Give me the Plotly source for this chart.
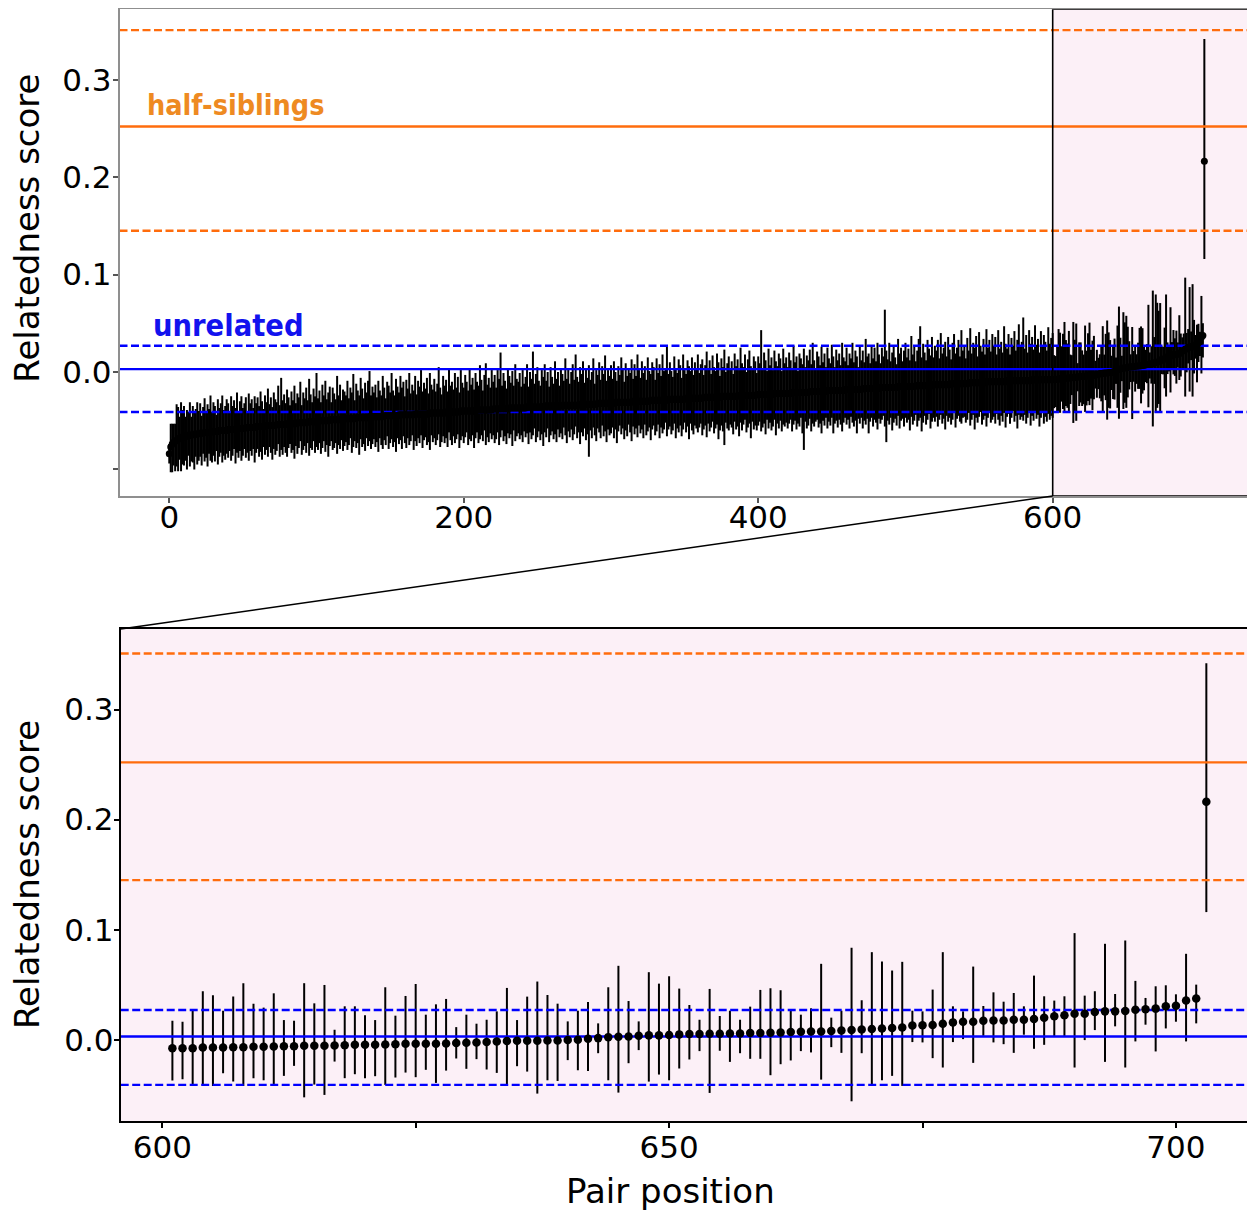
import plotly.graph_objects as go

# ---------------- data ----------------
# sorted relatedness scores, pair positions 0..600 (top overview panel)
main_score = [
    -.084,-.077,-.074,-.072,-.071,-.070,-.069,-.068,-.067,-.067,-.066,-.066,-.066,-.065,-.065,-.065,-.064,-.064,-.064,-.064,
    -.063,-.063,-.063,-.063,-.062,-.062,-.062,-.062,-.062,-.061,-.061,-.061,-.061,-.061,-.060,-.060,-.060,-.060,-.060,-.060,
    -.059,-.059,-.059,-.059,-.059,-.059,-.058,-.058,-.058,-.058,-.058,-.058,-.057,-.057,-.057,-.057,-.057,-.057,-.057,-.056,
    -.056,-.056,-.056,-.056,-.056,-.056,-.055,-.055,-.055,-.055,-.055,-.055,-.055,-.054,-.054,-.054,-.054,-.054,-.054,-.054,
    -.053,-.053,-.053,-.053,-.053,-.053,-.053,-.052,-.052,-.052,-.052,-.052,-.052,-.052,-.051,-.051,-.051,-.051,-.051,-.051,
    -.051,-.050,-.050,-.050,-.050,-.050,-.050,-.050,-.050,-.049,-.049,-.049,-.049,-.049,-.049,-.049,-.049,-.049,-.048,-.048,
    -.048,-.048,-.048,-.048,-.048,-.048,-.048,-.047,-.047,-.047,-.047,-.047,-.047,-.047,-.047,-.047,-.046,-.046,-.046,-.046,
    -.046,-.046,-.046,-.046,-.046,-.046,-.045,-.045,-.045,-.045,-.045,-.045,-.045,-.045,-.045,-.045,-.044,-.044,-.044,-.044,
    -.044,-.044,-.044,-.044,-.044,-.044,-.044,-.043,-.043,-.043,-.043,-.043,-.043,-.043,-.043,-.043,-.043,-.042,-.042,-.042,
    -.042,-.042,-.042,-.042,-.042,-.042,-.042,-.042,-.041,-.041,-.041,-.041,-.041,-.041,-.041,-.041,-.041,-.041,-.040,-.040,
    -.040,-.040,-.040,-.040,-.040,-.040,-.040,-.040,-.040,-.039,-.039,-.039,-.039,-.039,-.039,-.039,-.039,-.039,-.039,-.039,
    -.038,-.038,-.038,-.038,-.038,-.038,-.038,-.038,-.038,-.038,-.038,-.037,-.037,-.037,-.037,-.037,-.037,-.037,-.037,-.037,
    -.037,-.037,-.037,-.036,-.036,-.036,-.036,-.036,-.036,-.036,-.036,-.036,-.036,-.036,-.036,-.035,-.035,-.035,-.035,-.035,
    -.035,-.035,-.035,-.035,-.035,-.035,-.035,-.034,-.034,-.034,-.034,-.034,-.034,-.034,-.034,-.034,-.034,-.034,-.034,-.033,
    -.033,-.033,-.033,-.033,-.033,-.033,-.033,-.033,-.033,-.033,-.033,-.032,-.032,-.032,-.032,-.032,-.032,-.032,-.032,-.032,
    -.032,-.032,-.032,-.031,-.031,-.031,-.031,-.031,-.031,-.031,-.031,-.031,-.031,-.031,-.031,-.030,-.030,-.030,-.030,-.030,
    -.030,-.030,-.030,-.030,-.030,-.030,-.030,-.029,-.029,-.029,-.029,-.029,-.029,-.029,-.029,-.029,-.029,-.029,-.029,-.028,
    -.028,-.028,-.028,-.028,-.028,-.028,-.028,-.028,-.028,-.028,-.028,-.027,-.027,-.027,-.027,-.027,-.027,-.027,-.027,-.027,
    -.027,-.027,-.027,-.026,-.026,-.026,-.026,-.026,-.026,-.026,-.026,-.026,-.026,-.026,-.026,-.025,-.025,-.025,-.025,-.025,
    -.025,-.025,-.025,-.025,-.025,-.025,-.025,-.024,-.024,-.024,-.024,-.024,-.024,-.024,-.024,-.024,-.024,-.024,-.024,-.023,
    -.023,-.023,-.023,-.023,-.023,-.023,-.023,-.023,-.023,-.023,-.023,-.022,-.022,-.022,-.022,-.022,-.022,-.022,-.022,-.022,
    -.022,-.022,-.022,-.021,-.021,-.021,-.021,-.021,-.021,-.021,-.021,-.021,-.021,-.021,-.021,-.020,-.020,-.020,-.020,-.020,
    -.020,-.020,-.020,-.020,-.020,-.020,-.020,-.019,-.019,-.019,-.019,-.019,-.019,-.019,-.019,-.019,-.019,-.019,-.019,-.018,
    -.018,-.018,-.018,-.018,-.018,-.018,-.018,-.018,-.018,-.018,-.018,-.017,-.017,-.017,-.017,-.017,-.017,-.017,-.017,-.017,
    -.017,-.017,-.017,-.016,-.016,-.016,-.016,-.016,-.016,-.016,-.016,-.016,-.016,-.016,-.016,-.015,-.015,-.015,-.015,-.015,
    -.015,-.015,-.015,-.015,-.015,-.015,-.015,-.014,-.014,-.014,-.014,-.014,-.014,-.014,-.014,-.014,-.014,-.014,-.014,-.013,
    -.013,-.013,-.013,-.013,-.013,-.013,-.013,-.013,-.013,-.013,-.013,-.012,-.012,-.012,-.012,-.012,-.012,-.012,-.012,-.012,
    -.012,-.012,-.012,-.011,-.011,-.011,-.011,-.011,-.011,-.011,-.011,-.011,-.011,-.011,-.011,-.010,-.010,-.010,-.010,-.010,
    -.010,-.010,-.010,-.010,-.010,-.010,-.010,-.010,-.010,-.009,-.009,-.009,-.009,-.009,-.009,-.009,-.009,-.009,-.009,-.009,
    -.009,-.009,-.009,-.009,-.009,-.009,-.008,-.008,-.008,-.008,-.008,-.008,-.008,-.008,-.008,-.008,-.008,-.008,-.008,-.008,
    -.008,
]
# upper error half-widths for positions 0..600
main_err_up = [
    .010,.024,.021,.019,.018,.037,.033,.022,.036,.028,.031,.020,.027,.024,.034,.019,.029,.022,.026,.033,
    .023,.031,.018,.027,.035,.021,.029,.024,.038,.020,.030,.026,.017,.033,.023,.028,.036,.021,.025,.032,
    .027,.019,.034,.024,.030,.022,.037,.018,.028,.033,.021,.026,.031,.017,.035,.025,.029,.020,.032,.024,
    .030,.021,.036,.026,.018,.032,.024,.038,.022,.029,.019,.034,.027,.023,.040,.020,.048,.025,.031,.022,
    .035,.027,.019,.033,.024,.039,.021,.030,.026,.042,.018,.031,.025,.036,.022,.044,.028,.020,.034,.026,
    .050,.023,.031,.019,.037,.026,.041,.022,.029,.034,.018,.033,.027,.021,.045,.025,.036,.020,.030,.028,
    .024,.039,.021,.032,.027,.046,.019,.035,.028,.023,.041,.030,.020,.036,.026,.038,.047,.022,.031,.025,
    .033,.020,.037,.027,.022,.042,.029,.018,.035,.031,.024,.044,.026,.021,.038,.030,.023,.040,.028,.034,
    .019,.036,.027,.043,.022,.031,.025,.039,.020,.034,.028,.045,.023,.032,.026,.037,.021,.041,.029,.024,
    .035,.022,.030,.047,.026,.019,.038,.028,.033,.021,.044,.027,.031,.023,.040,.025,.036,.020,.042,.029,
    .024,.037,.030,.021,.043,.027,.034,.022,.039,.029,.025,.046,.031,.020,.036,.048,.026,.033,.023,.041,
    .028,.035,.022,.040,.031,.058,.024,.037,.029,.021,.042,.033,.026,.038,.023,.045,.030,.027,.036,.022,
    .039,.025,.032,.044,.021,.036,.029,.057,.024,.034,.041,.027,.022,.038,.031,.043,.026,.035,.020,.040,
    .030,.023,.046,.028,.035,.021,.039,.032,.025,.048,.027,.037,.022,.034,.042,.026,.052,.029,.024,.038,
    .031,.044,.022,.036,.027,.040,.025,.033,.047,.021,.035,.029,.042,.024,.038,.030,.049,.023,.034,.028,
    .039,.025,.043,.031,.022,.037,.028,.046,.034,.021,.040,.027,.035,.030,.044,.023,.038,.026,.048,.032,
    .024,.041,.029,.036,.022,.045,.031,.027,.039,.034,.021,.043,.028,.037,.025,.047,.030,.033,.055,.026,
    .038,.029,.023,.044,.032,.027,.041,.035,.022,.046,.030,.025,.039,.033,.028,.042,.024,.037,.031,.045,
    .026,.035,.040,.023,.033,.047,.029,.038,.024,.043,.031,.027,.045,.036,.022,.039,.030,.048,.025,.034,
    .041,.028,.036,.023,.044,.031,.038,.026,.049,.033,.029,.042,.024,.037,.046,.030,.027,.040,.035,.022,
    .039,.032,.066,.027,.043,.035,.024,.047,.030,.038,.025,.044,.033,.028,.041,.036,.023,.046,.031,.037,
    .027,.042,.034,.025,.048,.031,.037,.022,.040,.035,.029,.045,.026,.038,.033,.043,.028,.050,.032,.024,
    .041,.036,.027,.046,.030,.039,.025,.044,.033,.028,.047,.035,.024,.042,.031,.038,.026,.049,.034,.029,
    .043,.025,.037,.032,.048,.028,.040,.034,.023,.045,.030,.039,.027,.051,.033,.036,.026,.044,.031,.042,
    .028,.047,.035,.025,.041,.032,.080,.038,.029,.046,.027,.036,.043,.031,.024,.049,.034,.040,.026,.037,
    .045,.030,.039,.027,.052,.033,.041,.025,.036,.048,.061,.029,.043,.034,.026,.047,.038,.031,.050,.028,
    .040,.035,.046,.027,.053,.032,.038,.044,.029,.049,.036,.025,.042,.051,.031,.037,.045,.028,.055,.034,
    .039,.026,.047,.033,.056,.030,.041,.036,.048,.027,.052,.038,.032,.045,.029,.054,.035,.043,.031,.049,
    .037,.046,.028,.053,.034,.041,.030,.057,.039,.033,.048,.027,.044,.036,.051,.031,.042,.058,.035,.040,
    .065,.033,.047,.029,.052,.038,.044,.031,.056,.036,.042,.028,.050,.034,.046,.039,.030,.054,.037,.043,
    .048,
]
# lower error half-widths for positions 0..600
main_err_down = [
    .010,.026,.029,.024,.031,.027,.033,.022,.035,.028,.030,.025,.034,.021,.032,.027,.029,.036,.023,.031,
    .028,.024,.033,.021,.030,.026,.035,.022,.029,.032,.025,.031,.020,.034,.027,.023,.033,.026,.030,.024,
    .029,.022,.032,.027,.020,.035,.025,.030,.023,.033,.028,.021,.031,.026,.034,.024,.029,.022,.036,.027,
    .023,.031,.026,.034,.021,.029,.025,.032,.022,.028,.035,.024,.030,.027,.020,.033,.026,.031,.023,.029,
    .034,.025,.021,.030,.027,.036,.023,.032,.026,.019,.033,.028,.024,.031,.022,.035,.027,.029,.020,.032,
    .026,.030,.023,.034,.028,.021,.032,.025,.037,.027,.022,.031,.029,.024,.035,.026,.030,.021,.033,.028,
    .024,.032,.027,.020,.035,.029,.023,.031,.026,.038,.022,.030,.027,.034,.021,.029,.025,.033,.028,.023,
    .031,.026,.036,.022,.029,.033,.025,.030,.021,.034,.028,.024,.032,.027,.037,.023,.030,.026,.035,.022,
    .029,.034,.024,.031,.027,.021,.036,.028,.033,.025,.030,.022,.035,.027,.024,.032,.029,.038,.023,.030,
    .026,.033,.028,.022,.035,.030,.024,.031,.027,.036,.021,.029,.034,.025,.032,.028,.023,.037,.030,.026,
    .033,.027,.022,.035,.029,.031,.025,.038,.028,.023,.034,.030,.026,.032,.021,.036,.028,.033,.024,.030,
    .027,.035,.031,.024,.037,.029,.022,.033,.028,.036,.025,.031,.027,.039,.023,.034,.029,.026,.032,.028,
    .035,.024,.030,.027,.038,.026,.033,.029,.022,.036,.031,.025,.034,.028,.040,.027,.032,.023,.037,.030,
    .026,.034,.029,.037,.024,.032,.028,.035,.023,.031,.039,.027,.033,.025,.036,.030,.022,.034,.028,.041,
    .029,.033,.025,.037,.031,.054,.027,.035,.024,.032,.038,.026,.030,.036,.023,.034,.029,.040,.027,.033,
    .031,.025,.036,.028,.042,.030,.024,.033,.027,.038,.029,.035,.023,.031,.040,.026,.034,.028,.037,.025,
    .033,.029,.038,.024,.035,.031,.027,.041,.030,.026,.036,.032,.025,.039,.028,.034,.030,.023,.037,.031,
    .028,.036,.032,.025,.040,.030,.034,.027,.038,.031,.024,.035,.029,.042,.026,.033,.037,.028,.031,.035,
    .030,.026,.038,.033,.029,.041,.027,.035,.031,.025,.037,.032,.028,.043,.034,.030,.036,.050,.027,.033,
    .035,.029,.032,.039,.026,.034,.031,.042,.028,.036,.030,.025,.038,.033,.029,.044,.027,.035,.031,.037,
    .032,.028,.038,.034,.030,.041,.026,.035,.029,.037,.033,.027,.043,.031,.036,.028,.039,.032,.034,.030,
    .036,.031,.027,.040,.033,.029,.038,.032,.035,.026,.042,.059,.030,.037,.034,.028,.041,.033,.036,.031,
    .029,.037,.033,.043,.030,.035,.027,.039,.032,.036,.028,.044,.034,.031,.038,.030,.035,.042,.033,.029,
    .036,.031,.040,.028,.034,.038,.032,.045,.030,.035,.029,.041,.033,.037,.031,.046,.034,.030,.039,.032,
    .035,.042,.031,.037,.033,.029,.040,.056,.034,.038,.031,.044,.036,.032,.039,.030,.043,.035,.033,.041,
    .032,.037,.034,.045,.031,.039,.035,.030,.042,.036,.033,.047,.038,.031,.040,.035,.029,.044,.037,.034,
    .038,.033,.043,.036,.031,.040,.035,.046,.032,.038,.034,.042,.037,.030,.045,.036,.033,.039,.041,.035,
    .034,.040,.037,.031,.044,.038,.033,.048,.036,.041,.035,.030,.043,.038,.034,.046,.037,.032,.042,.039,
    .036,.043,.033,.039,.045,.035,.041,.032,.047,.037,.034,.044,.038,.031,.042,.036,.049,.035,.040,.037,
    .041,.035,.044,.038,.033,.046,.037,.042,.034,.040,.036,.048,.039,.033,.045,.038,.043,.035,.041,.037,
    .039,
]

# zoomed pairs, positions 601..703 (bottom panel): score and bar ends
zoom_first_pos = 601
zoom_score = [
    -.0076,-.0076,-.0076,-.0070,-.0070,-.0070,-.0067,-.0067,-.0064,-.0064,-.0061,-.0058,-.0058,-.0055,-.0055,-.0055,-.0052,-.0049,-.0046,-.0046,-.0046,-.0043,-.0040,-.0036,-.0036,
    -.0036,-.0036,-.0033,-.0030,-.0027,-.0024,-.0021,-.0015,-.0012,-.0009,-.0009,-.0009,-.0006,-.0006,-.0003,.0000,.0009,.0015,.0024,.0027,.0030,.0036,.0040,.0040,.0043,
    .0049,.0052,.0052,.0055,.0055,.0058,.0058,.0061,.0061,.0064,.0067,.0070,.0073,.0076,.0076,.0079,.0085,.0088,.0094,.0097,.0103,.0106,.0112,.0130,
    .0131,.0134,.0146,.0158,.0164,.0164,.0173,.0176,.0176,.0182,.0182,.0188,.0201,.0213,.0222,.0237,.0237,.0252,.0258,.0258,.0261,.0273,.0277,.0283,.0304,.0310,.0356,.0374,.2163,
]
zoom_ci_hi = [
    .0173,.0164,.0264,.0441,.0404,.0264,.0392,.0514,.0328,.0292,.0422,.0179,.0173,.0514,.0331,.0498,.0091,.0304,.0304,.0222,.0179,.0477,.0219,.0398,.0507,
    .0228,.0322,.0371,.0115,.0228,.0146,.0182,.0258,.0471,.0179,.0392,.0529,.0407,.0328,.0167,.0264,.0343,.0149,.0477,.0672,.0352,.0167,.0614,.0510,.0577,
    .0465,.0316,.0182,.0462,.0216,.0264,.0182,.0301,.0453,.0468,.0450,.0264,.0228,.0286,.0690,.0201,.0264,.0836,.0359,.0796,.0711,.0629,.0708,.0264,
    .0258,.0456,.0796,.0304,.0258,.0665,.0307,.0431,.0346,.0425,.0304,.0583,.0395,.0356,.0395,.0969,.0401,.0441,.0872,.0416,.0902,.0535,.0380,.0486,.0495,.0413,.0781,.0501,.342,
]
zoom_ci_lo = [
    -.0371,-.0359,-.0419,-.0410,-.0419,-.0304,-.0380,-.0419,-.0349,-.0368,-.0419,-.0328,-.0237,-.0523,-.0407,-.0501,-.0198,-.0349,-.0313,-.0349,-.0331,-.0410,-.0343,-.0298,-.0340,
    -.0273,-.0392,-.0280,-.0170,-.0264,-.0176,-.0270,-.0301,-.0419,-.0240,-.0289,-.0489,-.0368,-.0374,-.0185,-.0277,-.0283,-.0122,-.0368,-.0480,-.0213,-.0094,-.0380,-.0316,-.0368,
    -.0261,-.0179,-.0103,-.0483,-.0100,-.0201,-.0122,-.0173,-.0173,-.0322,-.0222,-.0188,-.0103,-.0115,-.0362,-.0067,-.0119,-.0559,-.0122,-.0419,-.0368,-.0328,-.0419,-.0021,
    -.0024,-.0167,-.0252,-.0021,.0006,-.0210,.0036,-.0024,-.0040,-.0119,.0046,-.0082,-.0046,.0030,.0030,-.0252,-.0003,.0088,-.0201,.0122,-.0252,-.0015,.0137,-.0106,.0103,.0164,-.0015,.0149,.116,
]

# expected relatedness levels (mean, band low, band high)
half_sib_level = [0.252, 0.145, 0.351]
unrelated_level = [0.003, -0.041, 0.027]

top_xticks = [0, 200, 400, 600]
top_yticks = [-0.1, 0.0, 0.1, 0.2, 0.3]
top_ytext = ["", "0.0", "0.1", "0.2", "0.3"]
bot_xticks = [600, 625, 650, 675, 700]
bot_xtext = ["600", "", "650", "", "700"]
bot_yticks = [0.0, 0.1, 0.2, 0.3]
bot_ytext = ["0.0", "0.1", "0.2", "0.3"]

zoom_start = 600  # highlighted window start

# ---------------- derived ----------------
n_main = len(main_score)
pos_main = list(range(n_main))
pos_zoom = list(range(zoom_first_pos, zoom_first_pos + len(zoom_score)))
zoom_up = [h - s for h, s in zip(zoom_ci_hi, zoom_score)]
zoom_dn = [s - l for s, l in zip(zoom_score, zoom_ci_lo)]

all_pos = pos_main + pos_zoom
all_score = main_score + zoom_score
all_up = main_err_up + zoom_up
all_dn = main_err_down + zoom_dn

# ---------------- layout geometry ----------------
# the page body adds an 8 px margin; positions below are measured on the window
OFF = 8
WIN_W, WIN_H = 1255, 1211
W, H = WIN_W - OFF, WIN_H - OFF

def px(xp):
    return (xp - OFF) / W
def py(yp):
    return 1 - (yp - OFF) / H
def dom_x(l, r):
    return [px(l), min(px(r), 1.0)]
def dom_y(t, b):
    return [py(b), py(t)]

top_dx = dom_x(119.5, 1255)
top_dy = dom_y(9.3, 496)
bot_dx = dom_x(120.7, 1255)
bot_dy = dom_y(629, 1121)
top_xr = [-33.8, 737.4]
top_yr = [-0.1273, 0.3724]
bot_xr = [595.9, 707.8]
bot_yr = [-0.0738, 0.3732]
rect_right = 736.7

PINK = "#fcf0f7"
ORANGE = "#ff6c0c"
ORANGE_TXT = "#ee8a22"
BLUE = "#0000ff"
BLUE_TXT = "#1212ee"
FONT = "DejaVu Sans"

fig = go.Figure()

def add_panel(xa, ya, xs, ys, up, dn, xr, thick, msize):
    fig.add_trace(go.Scatter(
        x=xs, y=ys, mode="markers", xaxis=xa, yaxis=ya,
        marker=dict(size=msize, color="rgba(0,0,0,0)"),
        error_y=dict(type="data", symmetric=False, array=up, arrayminus=dn,
                     color="black", thickness=thick, width=0),
        hoverinfo="skip", showlegend=False))
    for lev, col in ((half_sib_level, ORANGE), (unrelated_level, BLUE)):
        for k, v in enumerate(lev):
            fig.add_trace(go.Scatter(
                x=[xr[0], xr[1]], y=[v, v], mode="lines", xaxis=xa, yaxis=ya,
                line=dict(color=col, width=2.4, dash="solid" if k == 0 else "8px,3.5px"),
                hoverinfo="skip", showlegend=False))
    fig.add_trace(go.Scatter(
        x=xs, y=ys, mode="markers", xaxis=xa, yaxis=ya,
        marker=dict(size=msize, color="black"),
        hoverinfo="skip", showlegend=False))

add_panel("x", "y", all_pos, all_score, all_up, all_dn, top_xr, 2.0, 7)
add_panel("x2", "y2", pos_zoom, zoom_score, zoom_up, zoom_dn, bot_xr, 2.0, 8.5)

tickfont = dict(family=FONT, size=31, color="black")

def to_paper_x(v, dom, rng):
    return dom[0] + (v - rng[0]) / (rng[1] - rng[0]) * (dom[1] - dom[0])

x600_paper = to_paper_x(zoom_start, top_dx, top_xr)
xright_paper = to_paper_x(rect_right, top_dx, top_xr)

shapes = [
    dict(type="rect", xref="x", yref="y", x0=zoom_start, x1=rect_right,
         y0=top_yr[0], y1=top_yr[1], fillcolor=PINK, line=dict(width=0), layer="below"),
    dict(type="rect", xref="x2 domain", yref="y2 domain", x0=0, x1=1, y0=0, y1=1,
         fillcolor=PINK, line=dict(width=0), layer="below"),
    dict(type="rect", xref="x", yref="y", x0=zoom_start, x1=rect_right,
         y0=top_yr[0], y1=top_yr[1], fillcolor="rgba(0,0,0,0)",
         line=dict(color="black", width=1.6), layer="above"),
    dict(type="line", xref="paper", yref="paper", x0=x600_paper, y0=top_dy[0],
         x1=bot_dx[0], y1=bot_dy[1], line=dict(color="black", width=1.5)),
    dict(type="line", xref="paper", yref="paper", x0=xright_paper, y0=top_dy[0],
         x1=px(1256.5), y1=bot_dy[1], line=dict(color="black", width=1.5)),
]

annotations = [
    dict(text="Relatedness score", xref="paper", yref="paper", x=px(26.7), y=py(228),
         textangle=-90, showarrow=False, xanchor="center", yanchor="middle",
         font=dict(family=FONT, size=34, color="black")),
    dict(text="Relatedness score", xref="paper", yref="paper", x=px(27), y=py(875),
         textangle=-90, showarrow=False, xanchor="center", yanchor="middle",
         font=dict(family=FONT, size=34, color="black")),
    dict(text="Pair position", xref="paper", yref="paper", x=px(670), y=py(1191),
         showarrow=False, xanchor="center", yanchor="middle",
         font=dict(family=FONT, size=34, color="black")),
    dict(text="<b>half-siblings</b>", xref="paper", yref="paper", x=px(145), y=py(106),
         showarrow=False, xanchor="left", yanchor="middle",
         font=dict(family="DejaVu Sans Condensed, DejaVu Sans", size=28.5, color=ORANGE_TXT)),
    dict(text="<b>unrelated</b>", xref="paper", yref="paper", x=px(151), y=py(325),
         showarrow=False, xanchor="left", yanchor="middle",
         font=dict(family="DejaVu Sans Condensed, DejaVu Sans", size=30.5, color=BLUE_TXT)),
]

fig.update_layout(
    width=W, height=H, margin=dict(l=0, r=0, t=0, b=0),
    paper_bgcolor="white", plot_bgcolor="white", showlegend=False,
    shapes=shapes, annotations=annotations,
    xaxis=dict(domain=top_dx, range=top_xr, anchor="y", tickvals=top_xticks,
               ticks="outside", ticklen=5, tickwidth=1.5, tickcolor="#555",
               ticklabelstandoff=-12,
               showline=True, linecolor="#8f8f8f", linewidth=1.5, mirror=True,
               showgrid=False, zeroline=False, tickfont=tickfont),
    yaxis=dict(domain=top_dy, range=top_yr, anchor="x", tickvals=top_yticks,
               ticktext=top_ytext, ticks="outside", ticklen=5, tickwidth=1.5,
               tickcolor="#555", ticklabelstandoff=-5,
               showline=True, linecolor="#8f8f8f", linewidth=1.5,
               showgrid=False, zeroline=False, tickfont=tickfont),
    xaxis2=dict(domain=bot_dx, range=bot_xr, anchor="y2", tickvals=bot_xticks,
                ticktext=bot_xtext, ticks="outside", ticklen=5, tickwidth=1.5,
                tickcolor="black", ticklabelstandoff=-7,
                showline=True, linecolor="black", linewidth=2,
                mirror=True, showgrid=False, zeroline=False, tickfont=tickfont),
    yaxis2=dict(domain=bot_dy, range=bot_yr, anchor="x2", tickvals=bot_yticks,
                ticktext=bot_ytext, ticks="outside", ticklen=5, tickwidth=1.5,
                tickcolor="black", ticklabelstandoff=-6,
                showline=True, linecolor="black", linewidth=2,
                showgrid=False, zeroline=False, tickfont=tickfont),
)

fig.write_html("out.html")
